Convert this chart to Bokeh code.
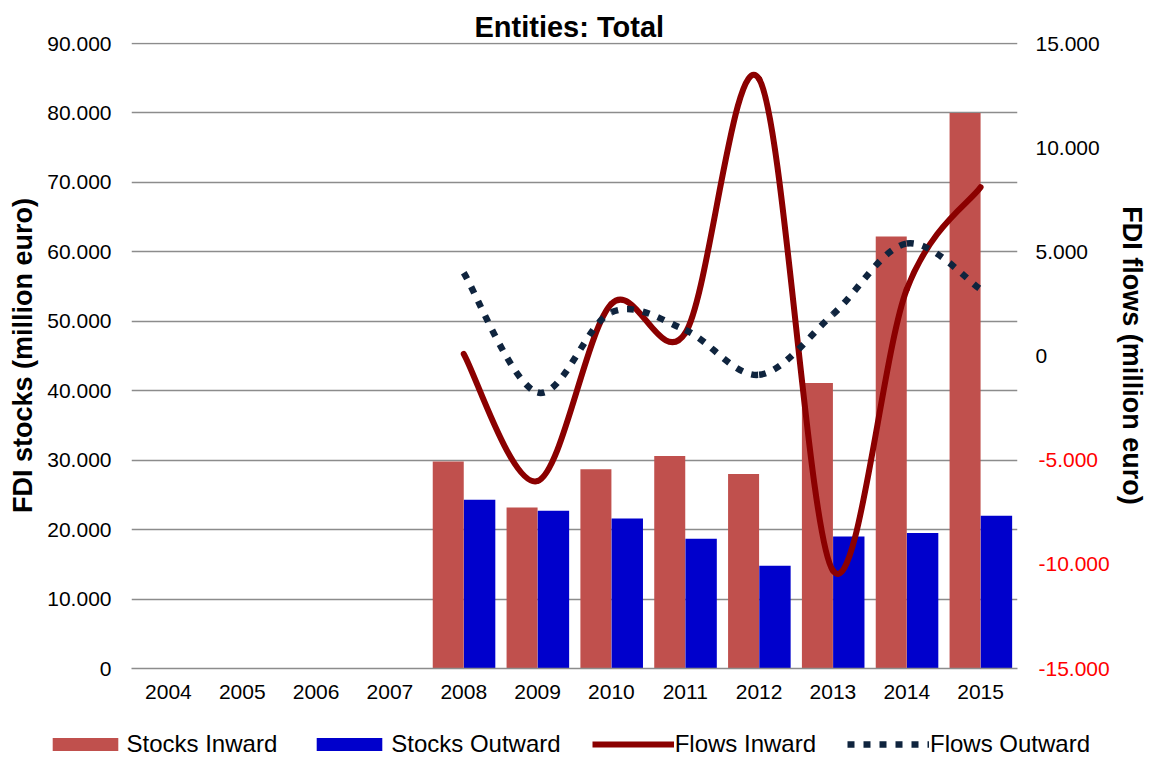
import numpy as np
from bokeh.plotting import figure
from bokeh.models import (Range1d, LinearAxis, FixedTicker, CustomJSTickFormatter,
                          ColumnDataSource, Legend, LegendItem, BasicTickFormatter)
from bokeh.transform import dodge
from bokeh.embed import file_html
from bokeh.resources import INLINE

# ---------------- data ----------------
years = [2004, 2005, 2006, 2007, 2008, 2009, 2010, 2011, 2012, 2013, 2014, 2015]
data_years = [2008, 2009, 2010, 2011, 2012, 2013, 2014, 2015]
stocks_inward = [29800, 23200, 28700, 30600, 28000, 41100, 62200, 80000]
stocks_outward = [24300, 22700, 21600, 18700, 14800, 19000, 19500, 22000]
flows_inward = [100, -6000, 2500, 1100, 13300, -10300, 3200, 8100]
flows_outward = [4000, -1750, 2100, 1250, -900, 2000, 5400, 3200]
left_ticks = [0, 10000, 20000, 30000, 40000, 50000, 60000, 70000, 80000, 90000]
right_ticks_pos = [0, 5000, 10000, 15000]
right_ticks_neg = [-15000, -10000, -5000]
series_names = ["Stocks Inward", "Stocks Outward", "Flows Inward", "Flows Outward"]
title_text = "Entities: Total"
left_title = "FDI stocks (million euro)"
right_title = "FDI flows (million euro)"

FONT = "Liberation Sans"
C_IN = "#C0504D"
C_OUT = "#0000CC"
C_FIN = "#8B0000"
C_FOUT = "#0F243E"
GRID = "#8c8c8c"
DOTS = "7 9"

W = 1151
FRAME_W = 886
FRAME_H = 626
MAIN_H = 710
LEG_H = 48
X0, X1 = 2003.5, 2015.5
Y_END = 90150                       # a hair above 90.000 so the top grid line shows
F_LO, F_HI = -15000, 15000 + (Y_END - 90000) / 3.0


def smooth_bezier(xs, ys):
    """Smoothed-line drawing (Catmull-Rom tangents) expressed as cubic Bezier segments."""
    xs = np.asarray(xs, float)
    ys = np.asarray(ys, float)
    n = len(xs)
    prev = np.r_[0, np.arange(n - 2)]          # index of P(i-1) for each segment start
    nxt = np.r_[np.arange(2, n), n - 1]        # index of P(i+2) for each segment
    i0 = np.arange(n - 1)
    i1 = i0 + 1
    return dict(
        x0=xs[i0], y0=ys[i0], x1=xs[i1], y1=ys[i1],
        cx0=xs[i0] + (xs[i1] - xs[prev]) / 6, cy0=ys[i0] + (ys[i1] - ys[prev]) / 6,
        cx1=xs[i1] - (xs[nxt] - xs[i0]) / 6, cy1=ys[i1] - (ys[nxt] - ys[i0]) / 6,
    )


p = figure(width=W, height=MAIN_H, frame_width=FRAME_W, frame_height=FRAME_H,
           output_backend="svg", toolbar_location=None,
           x_range=Range1d(X0, X1), y_range=Range1d(0, Y_END),
           min_border_left=131, min_border_right=134,
           min_border_top=42, min_border_bottom=MAIN_H - 42 - FRAME_H)
p.outline_line_color = None
p.xgrid.visible = False
p.ygrid.ticker = FixedTicker(ticks=left_ticks)
p.ygrid.grid_line_color = GRID
p.ygrid.grid_line_width = 1.6

p.title.text = title_text
p.title.align = "left"
p.title.offset = 343
p.title.standoff = 0
p.title.text_font = FONT
p.title.text_font_size = "29px"
p.title.text_font_style = "bold"
p.title.text_color = "black"

p.extra_y_ranges = {"flows": Range1d(F_LO, F_HI)}


def style_axis(ax, standoff):
    ax.axis_line_color = None
    ax.major_tick_line_color = None
    ax.minor_tick_line_color = None
    ax.major_tick_out = 0
    ax.major_tick_in = 0
    ax.minor_tick_out = 0
    ax.minor_tick_in = 0
    ax.major_label_standoff = standoff
    ax.major_label_text_font = FONT
    ax.major_label_text_font_size = "21px"
    ax.major_label_text_color = "black"
    ax.axis_label_text_font = FONT
    ax.axis_label_text_font_size = "27px"
    ax.axis_label_text_font_style = "bold"
    ax.axis_label_text_color = "black"


# x axis
xa = p.xaxis[0]
style_axis(xa, 16)
xa.ticker = FixedTicker(ticks=years)
xa.formatter = BasicTickFormatter(use_scientific=False)
xa.axis_line_color = GRID
xa.axis_line_width = 1.6

# left axis
ya = p.yaxis[0]
style_axis(ya, 20)
ya.ticker = FixedTicker(ticks=left_ticks)
ya.formatter = CustomJSTickFormatter(code="return tick == 0 ? '0' : (tick/1000).toFixed(3);")
ya.axis_label = left_title
ya.axis_label_standoff = 6

fmt = "return tick == 0 ? '0' : (tick < 0 ? '-' : '') + (Math.abs(tick)/1000).toFixed(3);"

# right axis: non-negative labels (black)
ra = LinearAxis(y_range_name="flows", ticker=FixedTicker(ticks=right_ticks_pos),
                formatter=CustomJSTickFormatter(code=fmt))
style_axis(ra, 18)
p.add_layout(ra, "right")

# right axis: negative labels (red), pulled back onto the same column
rn = LinearAxis(y_range_name="flows", ticker=FixedTicker(ticks=right_ticks_neg),
                formatter=CustomJSTickFormatter(code=fmt))
style_axis(rn, -64)
rn.major_label_text_color = "#FF0000"
rn.axis_label = right_title
rn.axis_label_standoff = 4
p.add_layout(rn, "right")

# bars
src = ColumnDataSource(dict(year=data_years, inward=stocks_inward, outward=stocks_outward))
p.vbar(x=dodge("year", -0.21, range=p.x_range), top="inward", width=0.42,
       source=src, fill_color=C_IN, line_color=None)
p.vbar(x=dodge("year", 0.215, range=p.x_range), top="outward", width=0.425,
       source=src, fill_color=C_OUT, line_color=None)

# smoothed flow lines
b_in = smooth_bezier(data_years, flows_inward)
b_out = smooth_bezier(data_years, flows_outward)
p.bezier(source=ColumnDataSource(b_in), x0="x0", y0="y0", x1="x1", y1="y1",
         cx0="cx0", cy0="cy0", cx1="cx1", cy1="cy1",
         y_range_name="flows", line_color=C_FIN, line_width=6, line_cap="round")
p.bezier(source=ColumnDataSource(b_out), x0="x0", y0="y0", x1="x1", y1="y1",
         cx0="cx0", cy0="cy0", cx1="cx1", cy1="cy1",
         y_range_name="flows", line_color=C_FOUT, line_width=6.5, line_dash=DOTS)

# ---------------- legend strip (separate root, full-width frame) ----------------
lf = figure(width=W, height=LEG_H, output_backend="svg", toolbar_location=None,
            x_range=Range1d(0, 1), y_range=Range1d(0, 1),
            x_axis_location=None, y_axis_location=None, min_border=0)
lf.outline_line_color = None
lf.grid.visible = False
# key glyphs: styled like the series, their single point lies outside the visible range
k_in = lf.vbar(x=[-5], top=[-5], width=0.4, fill_color=C_IN, line_color=None)
k_out = lf.vbar(x=[-5], top=[-5], width=0.4, fill_color=C_OUT, line_color=None)
k_fin = lf.line(x=[-5, -4], y=[-5, -5], line_color=C_FIN, line_width=6)
k_fout = lf.line(x=[-5, -4], y=[-5, -5], line_color=C_FOUT, line_width=6.5, line_dash=DOTS)

legend = Legend(items=[LegendItem(label=series_names[0], renderers=[k_in]),
                       LegendItem(label=series_names[1], renderers=[k_out]),
                       LegendItem(label=series_names[2], renderers=[k_fin]),
                       LegendItem(label=series_names[3], renderers=[k_fout])],
                orientation="horizontal", location=(43.5, 0),
                glyph_width=82, glyph_height=16, label_standoff=1, spacing=31,
                padding=0, margin=0, border_line_color=None, background_fill_alpha=0,
                label_text_font=FONT, label_text_font_size="24px",
                label_text_color="black")
lf.add_layout(legend, "center")

open("out.html", "w").write(file_html([p, lf], INLINE))
